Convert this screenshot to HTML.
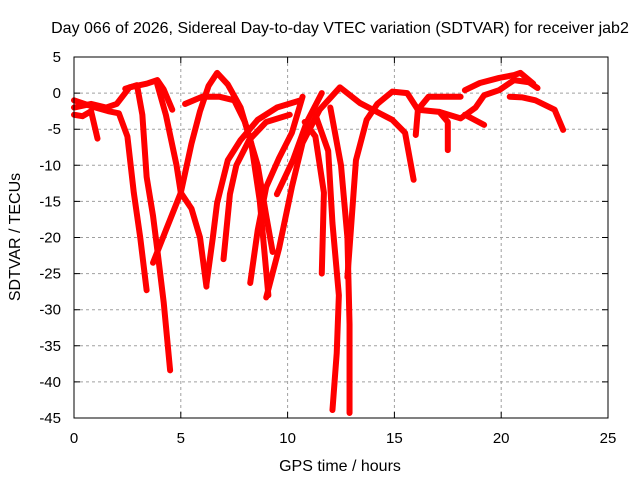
<!DOCTYPE html>
<html><head><meta charset="utf-8"><style>
body{margin:0;background:#fff;}
svg{display:block;font-family:"Liberation Sans",sans-serif;}
</style></head><body>
<svg id="chart" width="640" height="480">
<text x="340" y="33" text-anchor="middle" font-size="16">Day 066 of 2026, Sidereal Day-to-day VTEC variation (SDTVAR) for receiver jab2</text>
<g id="grid"></g>
<g id="series"></g>
<rect x="74" y="57" width="534" height="361" fill="none" stroke="#000" stroke-width="1"/>
<g id="axes"></g>
<text x="340" y="471" text-anchor="middle" font-size="16">GPS time / hours</text>
<text transform="translate(20,237) rotate(-90)" text-anchor="middle" font-size="16">SDTVAR / TECUs</text>
</svg>
<script>
const xTicks=[0,5,10,15,20,25];
const yTicks=[5,0,-5,-10,-15,-20,-25,-30,-35,-40,-45];
const s1=[[0,-1],[0.5,-1.5],[1.0,-2],[1.6,-2.5],[2.1,-2.8],[2.5,-6],[2.8,-13.8],[3.1,-20],[3.4,-27.3]];
const s2=[[2.4,0.6],[2.95,1.1],[3.2,-3],[3.4,-11.6],[3.7,-17],[3.9,-21.7],[4.2,-29],[4.5,-38.4]];
const s3=[[0,-2],[0.8,-1.5],[1.5,-2],[2.0,-1.5],[2.6,0.8],[3.4,1.3],[3.9,1.8],[4.2,0.5],[4.6,-2.3]];
const s4=[[3.7,-23.5],[4.3,-19],[5.0,-13.8],[5.5,-7],[5.9,-2.5],[6.3,1],[6.7,2.8],[7.2,1.2],[7.8,-2],[8.3,-7],[8.7,-15],[9.1,-28]];
const s5=[[3.9,1.2],[4.3,-3],[4.8,-10],[5.0,-13.8],[5.5,-16],[5.9,-20],[6.2,-26.8]];
const s6=[[6.2,-26.5],[6.5,-20],[6.7,-15.2],[7.2,-9.3],[7.8,-6.5],[8.6,-3.7],[9.5,-2],[10.6,-1]];
const s7=[[5.2,-1.5],[6.0,-0.5],[6.8,-0.5],[7.5,-1],[8.0,-4],[8.6,-10],[9.0,-17],[9.3,-22]];
const s8=[[7.0,-23],[7.3,-14],[7.6,-10],[8.2,-6.5],[9.0,-4],[10.1,-3]];
const s9=[[8.25,-26.3],[8.6,-19],[9.0,-13],[9.6,-9],[10.2,-5.5],[10.7,-0.5]];
const s10=[[9.0,-28.3],[9.6,-21.5],[10.2,-13],[10.7,-6.9],[11.5,-2.3],[12.45,0.8],[13.4,-1.4],[14.9,-3.7],[15.5,-5.5],[15.9,-12]];
const s11=[[11.6,0],[10.9,-4],[10.25,-9.3],[9.5,-14]];
const s12=[[10.8,-4],[11.3,-6],[11.7,-13.8],[11.6,-25]];
const s13=[[11.3,-3],[11.9,-8],[12.1,-18],[12.4,-28],[12.3,-36],[12.1,-43.9]];
const s14=[[12.0,-2],[12.5,-10],[12.8,-20],[12.9,-32],[12.9,-44.3]];
const s15=[[12.8,-25.5],[13.2,-9.3],[13.7,-3.7],[14.2,-1.5],[14.9,0.2],[15.6,0],[16.1,-2.3],[16.6,-0.5],[18.1,-0.5]];
const s16=[[16.1,-2.3],[16.0,-5.8]];
const s17=[[16.1,-2.3],[17.1,-2.6],[17.5,-4],[17.5,-7.9]];
const s18=[[17.1,-2.6],[18.1,-3.5],[18.8,-2],[19.2,-0.3],[19.9,0.4],[20.6,1.8],[21.3,1.5],[21.7,0.7]];
const s19=[[18.3,0.4],[19,1.4],[19.9,2.1],[20.6,2.5],[20.9,2.8],[21.5,1.3]];
const s20=[[20.4,-0.5],[21.0,-0.6],[21.6,-1],[22.5,-2.3],[22.9,-5.1]];
const s21=[[18.3,-3],[19.2,-4.4]];
const s22=[[0,-3],[0.4,-3.2],[0.8,-2.5],[1.1,-6.3]];
const allSeries=[s1,s2,s3,s4,s5,s6,s7,s8,s9,s10,s11,s12,s13,s14,s15,s16,s17,s18,s19,s20,s21,s22];
const X0=74,X1=608,Y0=418,Y1=57;
function xs(v){return X0+(v-0)/(25-0)*(X1-X0);}
function ys(v){return Y0-(v+45)/(50)*(Y0-Y1);}
const NS="http://www.w3.org/2000/svg";
const grid=document.getElementById('grid'),axes=document.getElementById('axes'),ser=document.getElementById('series');
function mk(tag,attrs,parent){const e=document.createElementNS(NS,tag);for(const k in attrs)e.setAttribute(k,attrs[k]);parent.appendChild(e);return e;}
xTicks.forEach(t=>{
  const x=xs(t);
  if(t>0&&t<25){const g=mk('line',{x1:x,x2:x,y1:Y1,y2:Y0,stroke:'#a0a0a0','stroke-dasharray':'3,3'},grid);
  
  }
  const tk=mk('path',{d:`M${x},${Y0}v-6M${x},${Y1}v6`,stroke:'#000'},axes);
  
  
  const l=mk('text',{x:x,y:443,'text-anchor':'middle','font-size':'15'},axes);l.textContent=t;
  
  
});
yTicks.forEach(t=>{
  const y=ys(t);
  if(t<5&&t>-45){const g=mk('line',{x1:X0,x2:X1,y1:y,y2:y,stroke:'#a0a0a0','stroke-dasharray':'3,3'},grid);
  
  }
  const tk=mk('path',{d:`M${X0},${y}h6M${X1},${y}h-6`,stroke:'#000'},axes);
  
  
  const l=mk('text',{x:61,y:y+5,'text-anchor':'end','font-size':'15'},axes);l.textContent=t;
  
  
});
allSeries.forEach((s,i)=>{
  const p=mk('polyline',{points:s.map(d=>xs(d[0])+','+ys(d[1])).join(' '),fill:'none',stroke:'#ff0000','stroke-width':6,'stroke-linejoin':'round','stroke-linecap':'round'},ser);
  
  
});
</script>
</body></html>
